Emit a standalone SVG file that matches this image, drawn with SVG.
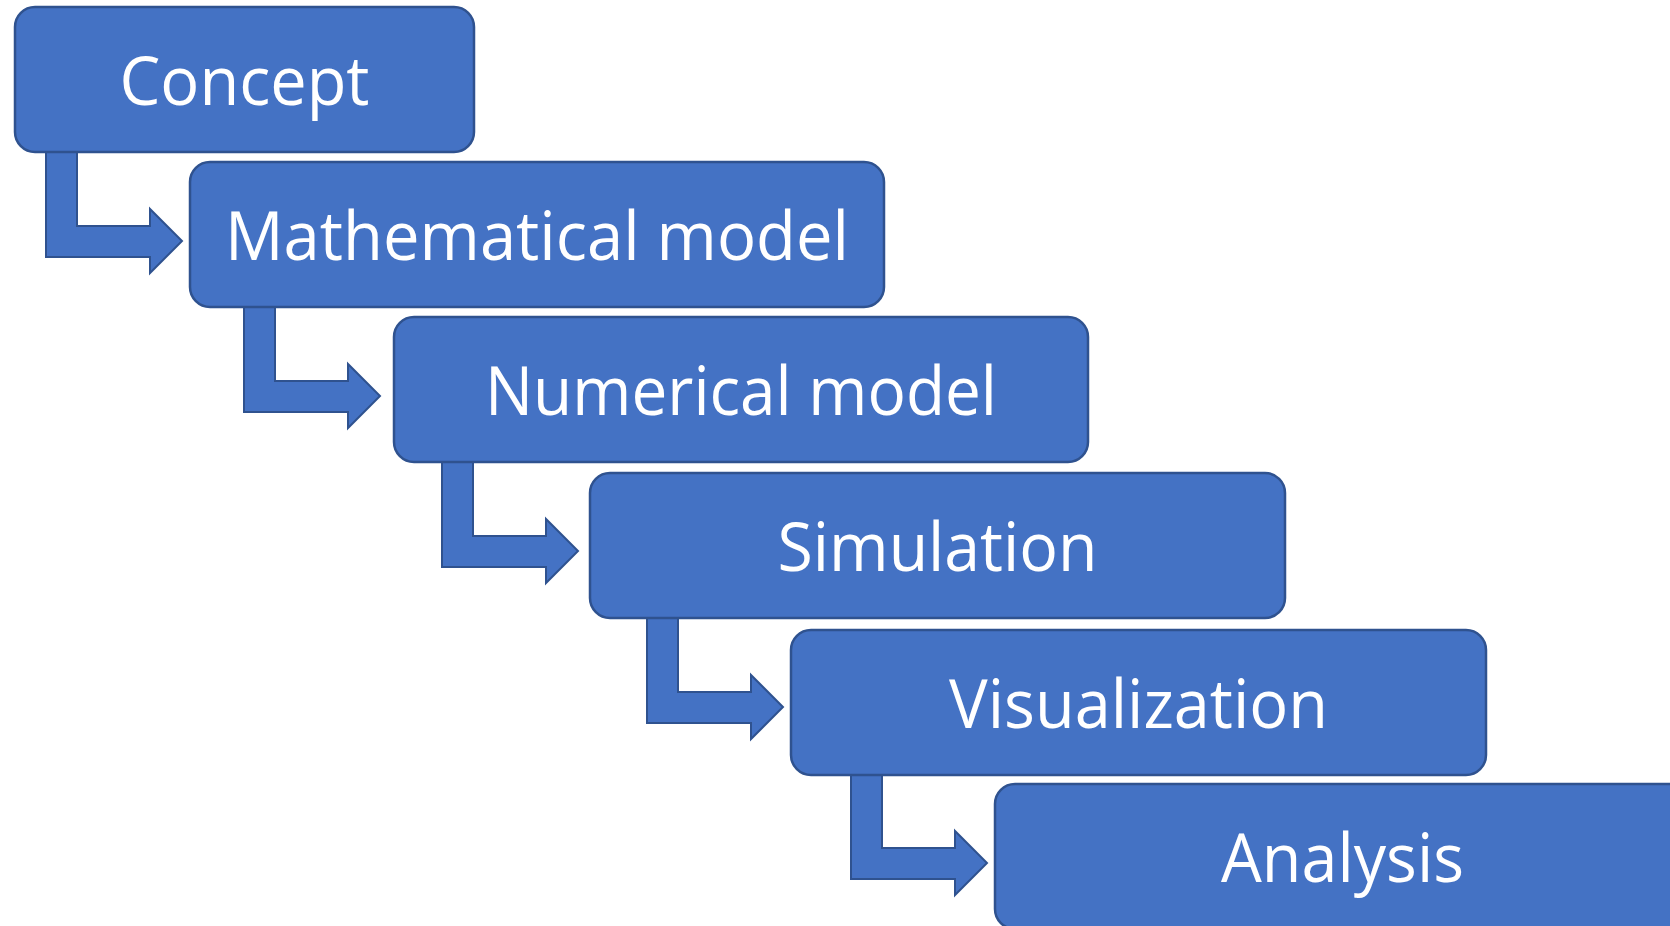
<svg xmlns="http://www.w3.org/2000/svg" width="1670" height="926" viewBox="0 0 1670 926">
  <style>
    .box { fill: #4472C4; stroke: #2F528F; stroke-width: 2.5; }
    .arrow { fill: #4472C4; stroke: #2F528F; stroke-width: 2; stroke-linejoin: miter; }
    .label { fill: #FFFFFF; font-family: "Open Sans", "Noto Sans", "Liberation Sans", sans-serif; font-size: 68px; text-anchor: middle; }
  </style>
  <defs>
    <path id="bent" d="M0,0 H31 V76 H104 V59 L136,91 L104,123 V107 H0 Z"/>
  </defs>
  <rect width="1670" height="926" fill="#FFFFFF"/>
  <g id="connectors">
    <use href="#bent" class="arrow" x="46" y="150"/>
    <use href="#bent" class="arrow" x="244" y="305"/>
    <use href="#bent" class="arrow" x="442" y="460"/>
    <use href="#bent" class="arrow" x="647" y="616"/>
    <use href="#bent" class="arrow" x="851" y="772"/>
  </g>
  <g id="concept">
    <rect class="box" x="15" y="7" width="459" height="145" rx="20"/>
    <text class="label" x="244.5" y="105" textLength="250" lengthAdjust="spacingAndGlyphs">Concept</text>
  </g>
  <g id="mathematical-model">
    <rect class="box" x="190" y="162" width="694" height="145" rx="20"/>
    <text class="label" x="537" y="260" textLength="624" lengthAdjust="spacingAndGlyphs">Mathematical model</text>
  </g>
  <g id="numerical-model">
    <rect class="box" x="394" y="317" width="694" height="145" rx="20"/>
    <text class="label" x="741" y="415" textLength="512" lengthAdjust="spacingAndGlyphs">Numerical model</text>
  </g>
  <g id="simulation">
    <rect class="box" x="590" y="473" width="695" height="145" rx="20"/>
    <text class="label" x="937.5" y="571" textLength="320" lengthAdjust="spacingAndGlyphs">Simulation</text>
  </g>
  <g id="visualization">
    <rect class="box" x="791" y="630" width="695" height="145" rx="20"/>
    <text class="label" x="1138.5" y="728" textLength="379" lengthAdjust="spacingAndGlyphs">Visualization</text>
  </g>
  <g id="analysis">
    <rect class="box" x="995" y="784" width="695" height="145" rx="20"/>
    <text class="label" x="1342.5" y="882" textLength="243" lengthAdjust="spacingAndGlyphs">Analysis</text>
  </g>
</svg>
